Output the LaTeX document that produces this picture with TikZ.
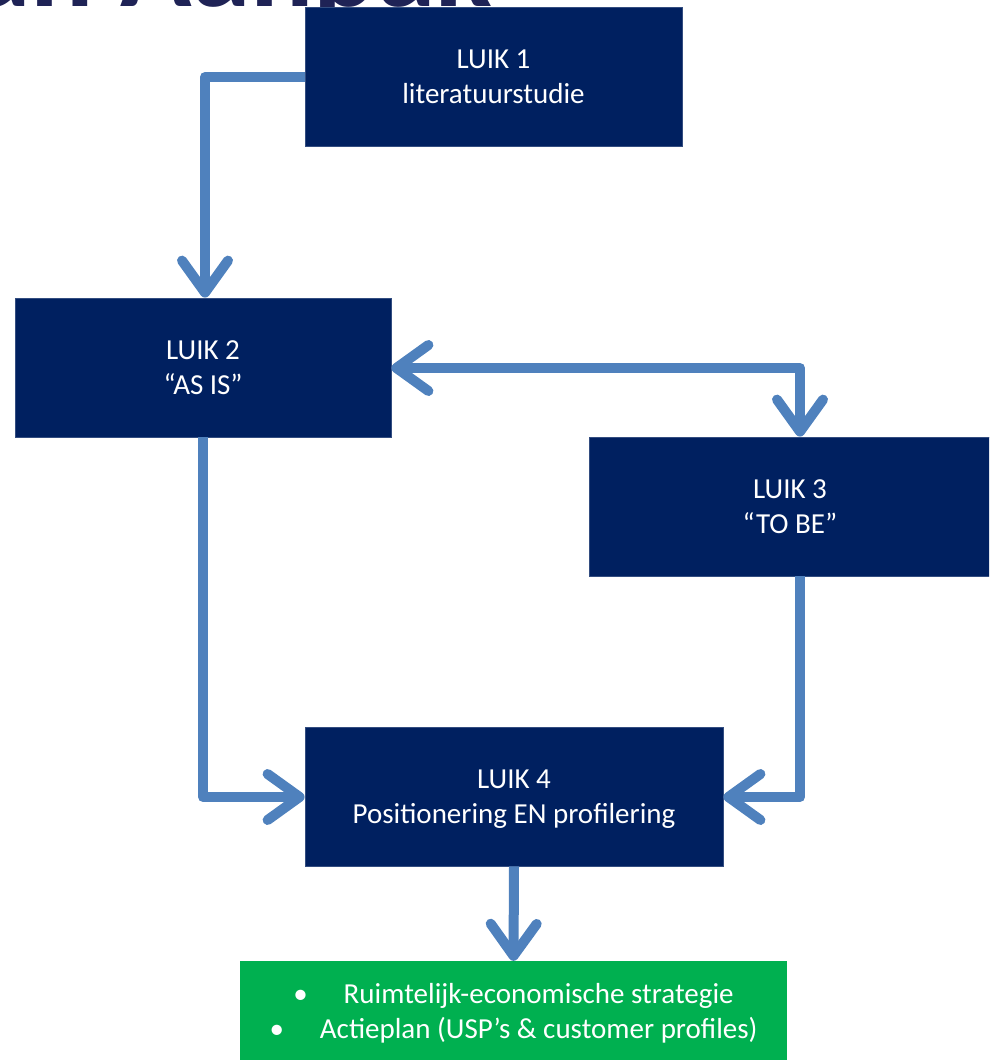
\documentclass[tikz,border=0pt]{standalone}
\usepackage{fontspec}
\setmainfont{Carlito}
\usetikzlibrary{arrows.meta}
\definecolor{navy}{HTML}{002060}
\definecolor{flow}{HTML}{4F81BD}
\definecolor{okgreen}{HTML}{00B050}
\definecolor{titlec}{HTML}{1F2356}
\tikzset{
  luik/.style={fill=navy, draw=navy!80!white, line width=0.8pt, text=white, inner sep=0pt, align=center,
    font=\fontsize{29}{35}\selectfont},
  flowline/.style={draw=flow, line width=10pt, line join=round,
    -{Straight Barb[length=32pt,width=46pt,round]}},
  bothline/.style={draw=flow, line width=10pt, line join=round,
    {Straight Barb[length=32pt,width=46pt,round]}-{Straight Barb[length=32pt,width=46pt,round]}},
}
\begin{document}
\begin{tikzpicture}[x=1pt,y=-1pt]
\useasboundingbox (0,0) rectangle (989,1060);
\clip (0,0) rectangle (989,1060);
\node[anchor=base east, text=titlec, font=\fontsize{118}{118}\selectfont\bfseries, inner sep=0pt] (title) at (492,6) {van Aanpak};
\node[luik, minimum width=377pt, minimum height=139pt] (l1) at (493.5,76.5) {LUIK 1\\literatuurstudie};
\node[luik, minimum width=376pt, minimum height=139pt] (l2) at (203,367.5) {LUIK 2\\“AS IS”};
\node[luik, minimum width=402pt, minimum height=139pt] (l3) at (790,506.5) {LUIK 3\\“TO BE”};
\node[luik, minimum width=418pt, minimum height=139pt, text depth=-4pt] (l4) at (514,796.5) {LUIK 4\\Positionering EN profilering};
\node[fill=okgreen, text=white, inner sep=0pt, minimum width=547pt, minimum height=104pt, align=center,
  font=\fontsize{29}{35}\selectfont] (out) at (513.5,1013)
  {\textbullet\hspace{36pt}Ruimtelijk-economische strategie\\
   \textbullet\hspace{36pt}Actieplan (USP’s \& customer profiles)};
\coordinate (c1) at (205,77);
\coordinate (c2) at (800,368);
\coordinate (c3) at (203,797);
\coordinate (c4) at (800,797);
\draw[flowline] (l1.west |- 0,77) -- (c1) -- (l2.north -| c1);
\draw[bothline] (l2.east |- 0,368) -- (c2) -- (l3.north -| c2);
\draw[flowline] (l2.south -| c3) -- (c3) -- (l4.west |- c3);
\draw[flowline] (l3.south -| c4) -- (c4) -- (l4.east |- c4);
\draw[flowline] (l4.south) -- (out.north);
\end{tikzpicture}
\end{document}
